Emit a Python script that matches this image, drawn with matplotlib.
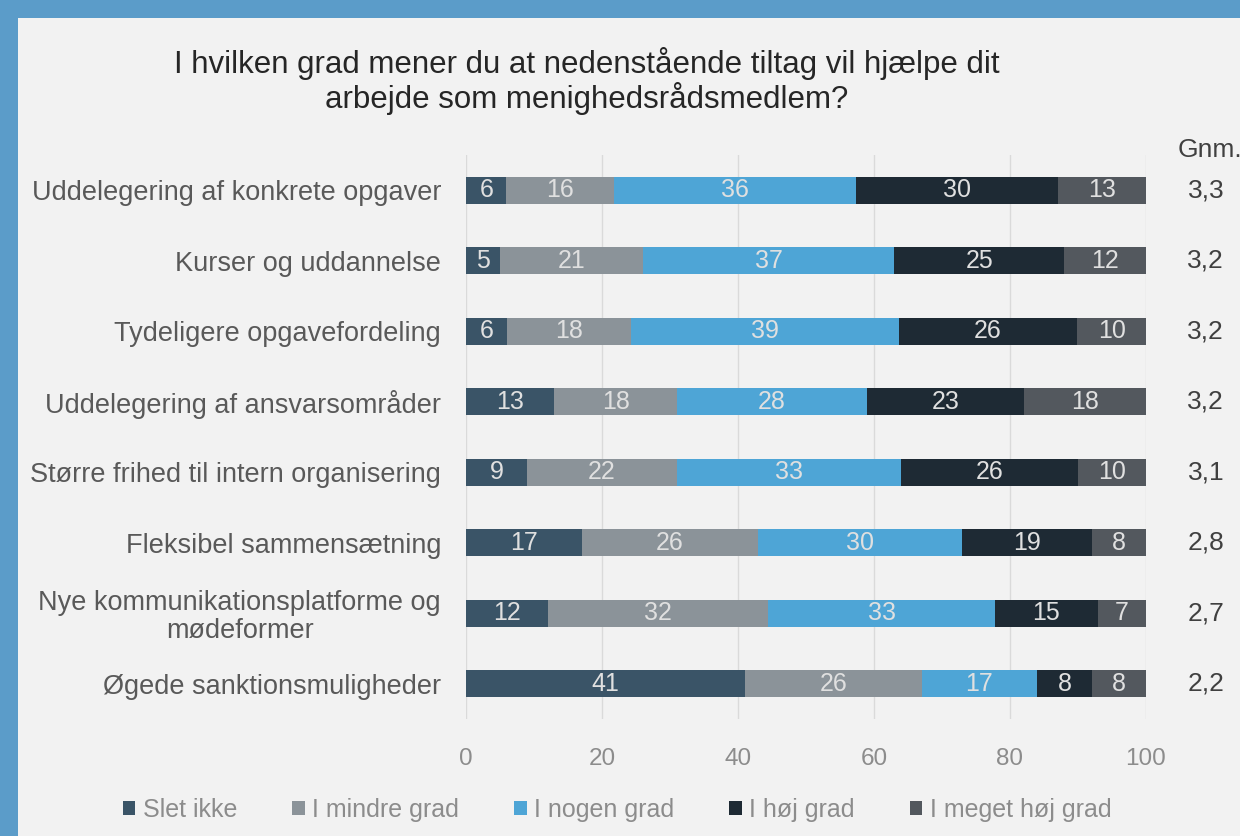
import numpy as np
import matplotlib.pyplot as plt
from matplotlib.patches import Rectangle

plt.rcParams['font.family'] = ['Liberation Sans', 'DejaVu Sans']

categories = ['Uddelegering af konkrete opgaver', 'Kurser og uddannelse',
              'Tydeligere opgavefordeling', 'Uddelegering af ansvarsområder',
              'Større frihed til intern organisering', 'Fleksibel sammensætning',
              'Nye kommunikationsplatforme og\nmødeformer', 'Øgede sanktionsmuligheder']
slet_ikke = [6, 5, 6, 13, 9, 17, 12, 41]
mindre_grad = [16, 21, 18, 18, 22, 26, 32, 26]
nogen_grad = [36, 37, 39, 28, 33, 30, 33, 17]
hoej_grad = [30, 25, 26, 23, 26, 19, 15, 8]
meget_hoej = [13, 12, 10, 18, 10, 8, 7, 8]
gnm = ['3,3', '3,2', '3,2', '3,2', '3,1', '2,8', '2,7', '2,2']
series_names = ['Slet ikke', 'I mindre grad', 'I nogen grad', 'I høj grad', 'I meget høj grad']
colors = ['#3a5467', '#8b9399', '#4ea5d6', '#1e2a34', '#53585e']

series = np.array([slet_ikke, mindre_grad, nogen_grad, hoej_grad, meget_hoej], dtype=float)
shares = series / series.sum(axis=0) * 100

fig = plt.figure(figsize=(12.4, 8.36), dpi=100)
fig.patch.set_facecolor('#5b9cc9')
fig.patches.append(Rectangle((18 / 1240, 0), 1, 1 - 18 / 836, transform=fig.transFigure,
                            facecolor='#f2f2f2', edgecolor='none', zorder=-5))

ax = fig.add_axes([466 / 1240, 1 - 719 / 836, 680 / 1240, 564 / 836])
ax.set_facecolor('none')
y = np.arange(len(categories))
left = np.zeros(len(categories))
for i, name in enumerate(series_names):
    ax.barh(y, shares[i], left=left, height=0.38, color=colors[i], label=name, zorder=2)
    for j in range(len(categories)):
        ax.text(left[j] + shares[i][j] / 2, y[j], str(int(series[i][j])), ha='center',
                va='center', color='#e0e0e0', fontsize=18, zorder=3)
    left += shares[i]

ax.set_xlim(0, 100)
ax.set_ylim(len(categories) - 0.5, -0.5)
ax.set_xticks([0, 20, 40, 60, 80, 100])
ax.set_yticks(y)
ax.set_yticklabels(categories, fontsize=19.5, color='#595959', ha='right',
                   multialignment='center', linespacing=1.1)
ax.tick_params(axis='x', length=0, labelsize=17.5, labelcolor='#8c8c8c', pad=21)
ax.tick_params(axis='y', length=0, pad=18)
ax.grid(axis='x', color='#dadada', linewidth=1, zorder=0)
for s in ax.spines.values():
    s.set_visible(False)

for j in range(len(categories)):
    ax.text(1.088, y[j], gnm[j], transform=ax.get_yaxis_transform(), ha='center',
            va='center', fontsize=19, color='#404040')
fig.text(1210 / 1240, 1 - 150 / 836, 'Gnm.', ha='center', va='center', fontsize=19, color='#404040')

fig.text(587 / 1240, 1 - 81 / 836,
         'I hvilken grad mener du at nedenstående tiltag vil hjælpe dit\narbejde som menighedsrådsmedlem?',
         ha='center', va='center', fontsize=22.5, color='#262626', linespacing=1.1)

fig.legend(loc='center', bbox_to_anchor=(617 / 1240, 1 - 810 / 836), ncol=5, frameon=False,
           fontsize=18, labelcolor='#8c8c8c', handlelength=0.5, handleheight=0.5,
           handletextpad=0.3, columnspacing=2.2)

fig.savefig('out.png', dpi=100, facecolor=fig.get_facecolor())
